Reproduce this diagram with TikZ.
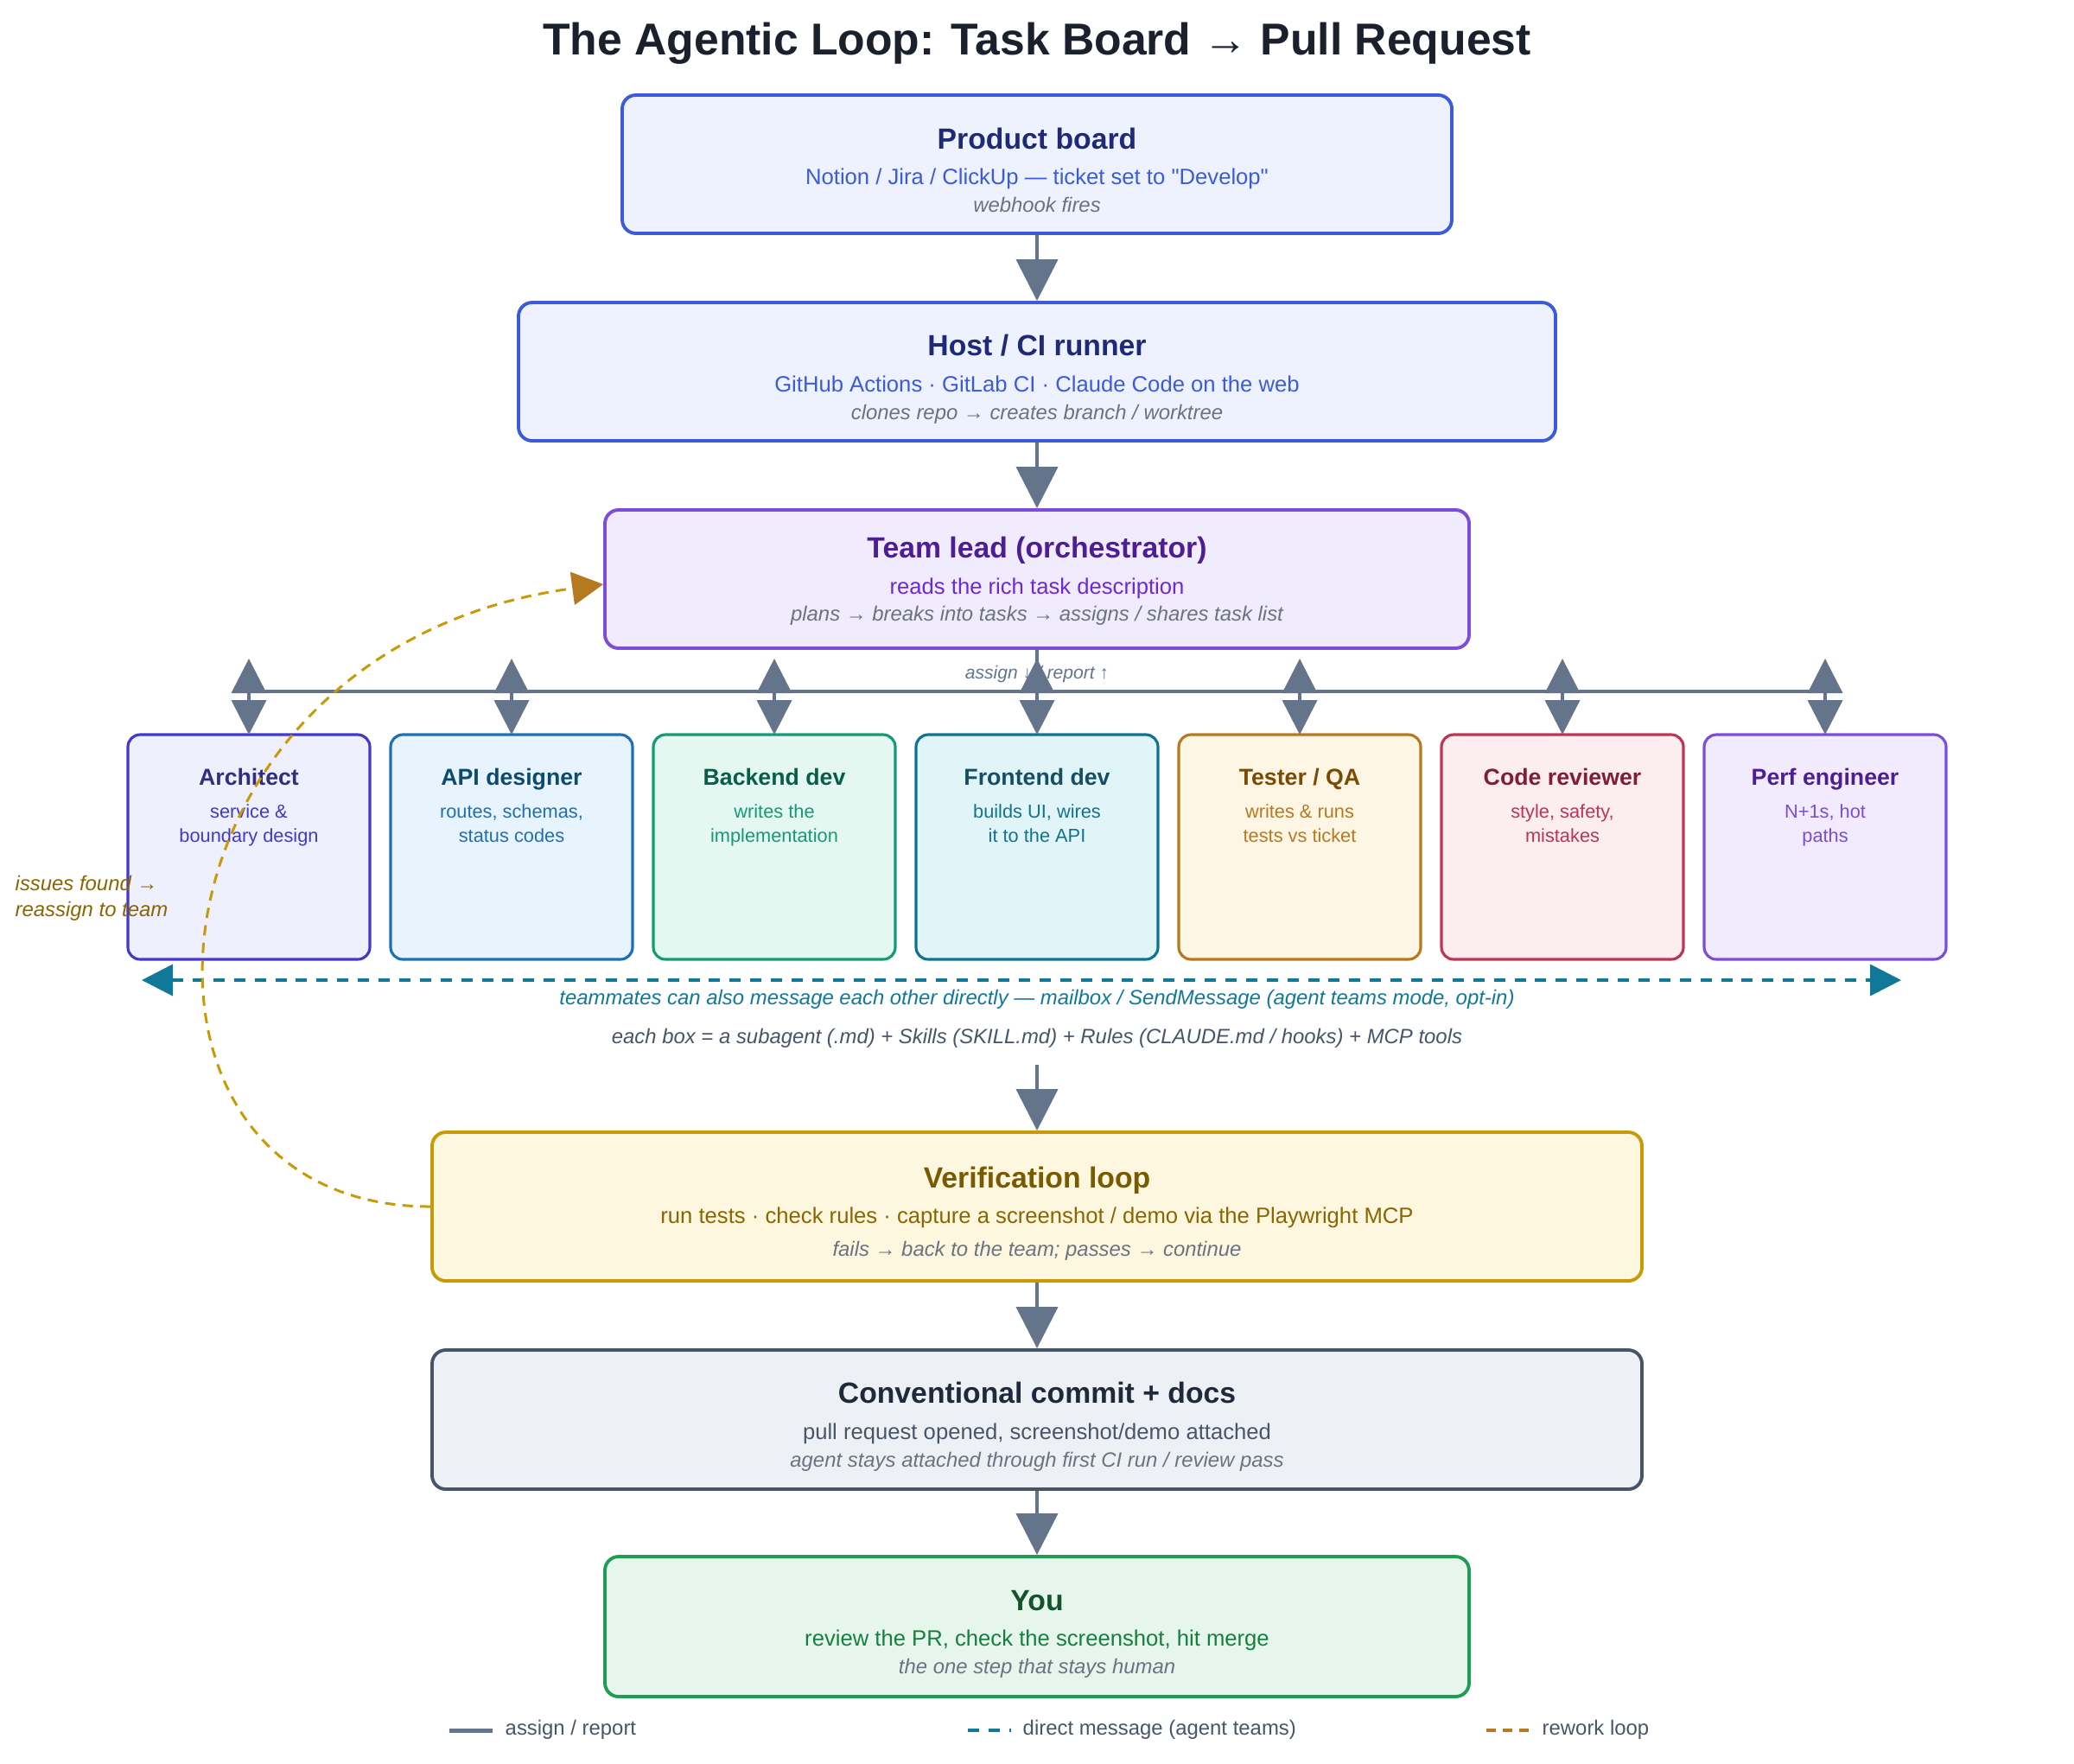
\documentclass[tikz,border=0pt]{standalone}
\usepackage{fontspec}
\setmainfont{Liberation Sans}[Ligatures=TeXOff]
\usetikzlibrary{positioning,arrows.meta}
\definecolor{AgInk}{HTML}{1A202C}
\definecolor{AgSlate}{HTML}{64748B}
\definecolor{AgMuted}{HTML}{6B7280}
\definecolor{AgNote}{HTML}{475569}
\definecolor{BlueLine}{HTML}{3B5BDB}
\definecolor{BlueFill}{HTML}{EDF2FE}
\definecolor{BlueInk}{HTML}{1E2A78}
\definecolor{LeadLine}{HTML}{7C4DDB}
\definecolor{LeadFill}{HTML}{F1ECFD}
\definecolor{LeadInk}{HTML}{4C1D95}
\definecolor{LeadSub}{HTML}{6D28D9}
\definecolor{ArchLine}{HTML}{4338CA}
\definecolor{ArchFill}{HTML}{EEF0FD}
\definecolor{ArchInk}{HTML}{312E81}
\definecolor{ApiLine}{HTML}{1F6FB5}
\definecolor{ApiFill}{HTML}{E7F3FD}
\definecolor{ApiInk}{HTML}{0C4A6E}
\definecolor{BackLine}{HTML}{139B74}
\definecolor{BackFill}{HTML}{E4F7F1}
\definecolor{BackInk}{HTML}{065F46}
\definecolor{FrontLine}{HTML}{0E7490}
\definecolor{FrontFill}{HTML}{E1F4F8}
\definecolor{FrontInk}{HTML}{164E63}
\definecolor{TestLine}{HTML}{B7791F}
\definecolor{TestFill}{HTML}{FEF6E4}
\definecolor{TestInk}{HTML}{7C4A03}
\definecolor{RevLine}{HTML}{BE3455}
\definecolor{RevFill}{HTML}{FCEDF0}
\definecolor{RevInk}{HTML}{7F1D3A}
\definecolor{PerfLine}{HTML}{7C4DDB}
\definecolor{PerfFill}{HTML}{F2EAFD}
\definecolor{PerfInk}{HTML}{4C1D95}
\definecolor{VerLine}{HTML}{CA9A06}
\definecolor{VerFill}{HTML}{FEF7E0}
\definecolor{VerInk}{HTML}{7A5A00}
\definecolor{VerSub}{HTML}{8A6500}
\definecolor{ComLine}{HTML}{475569}
\definecolor{ComFill}{HTML}{EDF1F6}
\definecolor{ComInk}{HTML}{1E293B}
\definecolor{YouLine}{HTML}{1E9E55}
\definecolor{YouFill}{HTML}{E6F6EC}
\definecolor{YouInk}{HTML}{14532D}
\definecolor{YouSub}{HTML}{15803D}
\definecolor{AgTeal}{HTML}{10799A}
\definecolor{AgGold}{HTML}{CA9A06}
\definecolor{AgAmber}{HTML}{B7791F}

\begin{document}
\begin{tikzpicture}[
    node distance=0.24cm,
    box/.style={draw,line width=1.1pt,rounded corners=4.5pt,minimum height=1.6cm},
    agent/.style={draw,line width=0.9pt,outer sep=0pt,rounded corners=4pt,minimum width=2.8cm,minimum height=2.6cm},
    txt/.style={anchor=base,inner sep=0pt},
    headtxt/.style={txt,font=\fontsize{9.6}{11}\selectfont\bfseries},
    subtxt/.style={txt,font=\fontsize{7.3}{9}\selectfont},
    notetxt/.style={txt,font=\fontsize{6.8}{8}\selectfont\itshape,text=AgMuted},
    aheadtxt/.style={txt,font=\fontsize{7.6}{9}\selectfont\bfseries},
    asubtxt/.style={txt,font=\fontsize{6.2}{8}\selectfont},
    arrow/.style={-{Triangle[width=0.48cm,length=0.48cm]},line width=1.1pt,draw=AgSlate},
    twoway/.style={{Triangle[width=0.4cm,length=0.4cm]}-{Triangle[width=0.4cm,length=0.4cm]},line width=1.1pt,draw=AgSlate},
    dmline/.style={line width=1.1pt,draw=AgTeal,dash pattern=on 3.7pt off 3.1pt},
    rework/.style={line width=0.85pt,draw=AgGold,dash pattern=on 3.4pt off 2.4pt}
  ]
    \useasboundingbox (0,0) rectangle (24,-20.4);
    \node[txt,font=\fontsize{14.7}{17}\selectfont\bfseries,text=AgInk] (title) at (12,-0.63) {The Agentic Loop: Task Board → Pull Request};

    % main column
    \node[box,draw=BlueLine,fill=BlueFill,minimum width=9.6cm] (board) at (12,-1.9) {};
    \node[headtxt,text=BlueInk] at (12,-1.72) {Product board};
    \node[subtxt,text=BlueLine] at (12,-2.13) {Notion / Jira / ClickUp — ticket set to "Develop"};
    \node[notetxt] at (12,-2.45) {webhook fires};

    \node[box,draw=BlueLine,fill=BlueFill,minimum width=12cm] (host) at (12,-4.3) {};
    \node[headtxt,text=BlueInk] at (12,-4.11) {Host / CI runner};
    \node[subtxt,text=BlueLine] at (12,-4.53) {GitHub Actions · GitLab CI · Claude Code on the web};
    \node[notetxt] at (12,-4.85) {clones repo → creates branch / worktree};

    \node[box,draw=LeadLine,fill=LeadFill,minimum width=10cm] (lead) at (12,-6.7) {};
    \node[headtxt,text=LeadInk] at (12,-6.45) {Team lead (orchestrator)};
    \node[subtxt,text=LeadSub] at (12,-6.87) {reads the rich task description};
    \node[notetxt] at (12,-7.18) {plans → breaks into tasks → assigns / shares task list};

    \draw[arrow] (board) -- (host);
    \draw[arrow] (host) -- (lead);

    % team of subagents
    \node[agent,draw=ArchLine,fill=ArchFill] (arch) at (2.88,-9.8) {};
    \node[agent,draw=ApiLine,fill=ApiFill,right=of arch] (api) {};
    \node[agent,draw=BackLine,fill=BackFill,right=of api] (back) {};
    \node[agent,draw=FrontLine,fill=FrontFill,right=of back] (front) {};
    \node[agent,draw=TestLine,fill=TestFill,right=of front] (test) {};
    \node[agent,draw=RevLine,fill=RevFill,right=of test] (rev) {};
    \node[agent,draw=PerfLine,fill=PerfFill,right=of rev] (perf) {};

    \node[aheadtxt,text=ArchInk] at ([yshift=-0.58cm]arch.north) {Architect};
    \node[asubtxt,text=ArchLine] at ([yshift=-0.96cm]arch.north) {service \&};
    \node[asubtxt,text=ArchLine] at ([yshift=-1.24cm]arch.north) {boundary design};
    \node[aheadtxt,text=ApiInk] at ([yshift=-0.58cm]api.north) {API designer};
    \node[asubtxt,text=ApiLine] at ([yshift=-0.96cm]api.north) {routes, schemas,};
    \node[asubtxt,text=ApiLine] at ([yshift=-1.24cm]api.north) {status codes};
    \node[aheadtxt,text=BackInk] at ([yshift=-0.58cm]back.north) {Backend dev};
    \node[asubtxt,text=BackLine] at ([yshift=-0.96cm]back.north) {writes the};
    \node[asubtxt,text=BackLine] at ([yshift=-1.24cm]back.north) {implementation};
    \node[aheadtxt,text=FrontInk] at ([yshift=-0.58cm]front.north) {Frontend dev};
    \node[asubtxt,text=FrontLine] at ([yshift=-0.96cm]front.north) {builds UI, wires};
    \node[asubtxt,text=FrontLine] at ([yshift=-1.24cm]front.north) {it to the API};
    \node[aheadtxt,text=TestInk] at ([yshift=-0.58cm]test.north) {Tester / QA};
    \node[asubtxt,text=TestLine] at ([yshift=-0.96cm]test.north) {writes \& runs};
    \node[asubtxt,text=TestLine] at ([yshift=-1.24cm]test.north) {tests vs ticket};
    \node[aheadtxt,text=RevInk] at ([yshift=-0.58cm]rev.north) {Code reviewer};
    \node[asubtxt,text=RevLine] at ([yshift=-0.96cm]rev.north) {style, safety,};
    \node[asubtxt,text=RevLine] at ([yshift=-1.24cm]rev.north) {mistakes};
    \node[aheadtxt,text=PerfInk] at ([yshift=-0.58cm]perf.north) {Perf engineer};
    \node[asubtxt,text=PerfLine] at ([yshift=-0.96cm]perf.north) {N+1s, hot};
    \node[asubtxt,text=PerfLine] at ([yshift=-1.24cm]perf.north) {paths};

    % assign / report bus
    \coordinate (busL) at (2.88,-8);
    \coordinate (busR) at (21.12,-8);
    \node[txt,font=\fontsize{6}{7}\selectfont\itshape,text=AgSlate] (busnote) at (12,-7.85) {assign ↓ / report ↑};
    \draw[line width=1.1pt,draw=AgSlate] (busL) -- (busR);
    \draw[line width=1.1pt,draw=AgSlate] (lead.south) -- (lead.south |- busL);
    \draw[twoway] ([yshift=0.88cm]arch.north) -- (arch.north);
    \draw[twoway] ([yshift=0.88cm]api.north) -- (api.north);
    \draw[twoway] ([yshift=0.88cm]back.north) -- (back.north);
    \draw[twoway] ([yshift=0.88cm]front.north) -- (front.north);
    \draw[twoway] ([yshift=0.88cm]test.north) -- (test.north);
    \draw[twoway] ([yshift=0.88cm]rev.north) -- (rev.north);
    \draw[twoway] ([yshift=0.88cm]perf.north) -- (perf.north);

    % direct messages
    \coordinate (dmL) at (1.64,-11.34);
    \coordinate (dmR) at (22.0,-11.34);
    \draw[dmline,{Triangle[width=0.36cm,length=0.36cm]}-{Triangle[width=0.36cm,length=0.36cm]}] (dmL) -- (dmR);
    \node[txt,font=\fontsize{6.8}{8}\selectfont\itshape,text=AgTeal] (dmnote) at (12,-11.62) {teammates can also message each other directly — mailbox / SendMessage (agent teams mode, opt-in)};
    \node[txt,font=\fontsize{6.8}{8}\selectfont\itshape,text=AgNote] (eachbox) at (12,-12.07) {each box = a subagent (.md) + Skills (SKILL.md) + Rules (CLAUDE.md / hooks) + MCP tools};
    \coordinate (teamout) at (12,-12.32);

    % verification and hand-off
    \node[box,draw=VerLine,fill=VerFill,minimum width=14cm,minimum height=1.72cm] (ver) at (12,-13.96) {};
    \node[headtxt,text=VerInk] at (12,-13.74) {Verification loop};
    \node[subtxt,text=VerSub] at (12,-14.15) {run tests · check rules · capture a screenshot / demo via the Playwright MCP};
    \node[notetxt] at (12,-14.53) {fails → back to the team; passes → continue};

    \node[box,draw=ComLine,fill=ComFill,minimum width=14cm,minimum height=1.61cm] (commit) at (12,-16.425) {};
    \node[headtxt,text=ComInk] at (12,-16.23) {Conventional commit + docs};
    \node[subtxt,text=ComLine] at (12,-16.65) {pull request opened, screenshot/demo attached};
    \node[notetxt] at (12,-16.97) {agent stays attached through first CI run / review pass};

    \node[box,draw=YouLine,fill=YouFill,minimum width=10cm,minimum height=1.62cm] (you) at (12,-18.82) {};
    \node[headtxt,text=YouInk] at (12,-18.63) {You};
    \node[subtxt,text=YouSub] at (12,-19.04) {review the PR, check the screenshot, hit merge};
    \node[notetxt] at (12,-19.36) {the one step that stays human};

    \draw[arrow] (teamout) -- (ver);
    \draw[arrow] (ver) -- (commit);
    \draw[arrow] (commit) -- (you);

    % rework loop
    \draw[rework,-{Triangle[width=0.38cm,length=0.36cm,color=AgAmber]}] (ver.west) .. controls (1.0,-13.96) and (1.5,-7.5) .. ([yshift=-0.06cm]lead.west);
    \node[txt,anchor=base west,font=\fontsize{6.8}{8}\selectfont\itshape,text=VerSub] (issues) at (0.17,-10.30) {issues found →};
    \node[txt,anchor=base west,font=\fontsize{6.8}{8}\selectfont\itshape,text=VerSub] (reassign) at (0.17,-10.60) {reassign to team};

    % legend
    \draw[line width=1.4pt,draw=AgSlate] (5.2,-20.02) -- (5.7,-20.02);
    \node[txt,anchor=base west,font=\fontsize{6.8}{8}\selectfont,text=AgNote] (lg1) at (5.84,-20.07) {assign / report};
    \draw[dmline] (11.2,-20.02) -- (11.7,-20.02);
    \node[txt,anchor=base west,font=\fontsize{6.8}{8}\selectfont,text=AgNote] (lg2) at (11.83,-20.07) {direct message (agent teams)};
    \draw[line width=1.1pt,draw=AgAmber,dash pattern=on 3pt off 2.4pt] (17.2,-20.02) -- (17.7,-20.02);
    \node[txt,anchor=base west,font=\fontsize{6.8}{8}\selectfont,text=AgNote] (lg3) at (17.84,-20.07) {rework loop};
  \end{tikzpicture}
\end{document}
